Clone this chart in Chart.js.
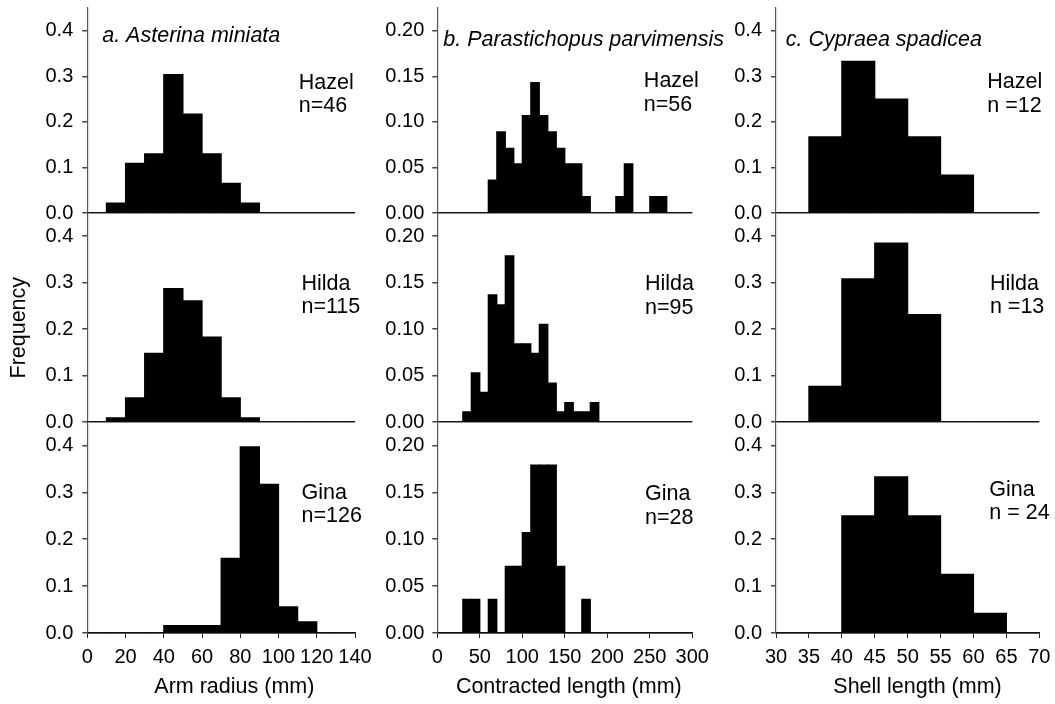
<!DOCTYPE html>
<html>
<head>
<meta charset="utf-8">
<title>Size-frequency histograms</title>
<script src="https://cdn.jsdelivr.net/npm/chart.js@4.4.1/dist/chart.umd.min.js"></script>
<style>
  html, body { margin: 0; padding: 0; background: #fff; }
  #fig { position: relative; width: 1055px; height: 704px; overflow: hidden; }
  .col { position: absolute; top: 0; height: 704px; }
</style>
</head>
<body>
<div id="fig">
  <div class="col" style="left:0px;width:380px"><canvas id="colA" width="380" height="704"></canvas></div>
  <div class="col" style="left:360px;width:380px"><canvas id="colB" width="380" height="704"></canvas></div>
  <div class="col" style="left:700px;width:355px"><canvas id="colC" width="355" height="704"></canvas></div>
</div>
<script>
'use strict';

// a. Asterina miniata - arm radius, 10 mm bins (bin centres)
var armBins  = [5, 15, 25, 35, 45, 55, 65, 75, 85, 95, 105, 115, 125, 135];
var armHazel = [0, 0.022, 0.109, 0.130, 0.304, 0.217, 0.130, 0.065, 0.022, 0, 0, 0, 0, 0];
var armHilda = [0, 0.009, 0.052, 0.148, 0.287, 0.261, 0.183, 0.052, 0.009, 0, 0, 0, 0, 0];
var armGina  = [0, 0, 0, 0, 0.016, 0.016, 0.016, 0.159, 0.397, 0.317, 0.056, 0.024, 0, 0];
var armTicks = [0, 20, 40, 60, 80, 100, 120, 140];

// b. Parastichopus parvimensis - contracted length, 10 mm bins
var lenBins  = [5, 15, 25, 35, 45, 55, 65, 75, 85, 95, 105, 115, 125, 135, 145,
                155, 165, 175, 185, 195, 205, 215, 225, 235, 245, 255, 265, 275, 285, 295];
var lenHazel = [0, 0, 0, 0, 0, 0, 0.036, 0.089, 0.071, 0.054, 0.107, 0.143, 0.107, 0.089, 0.071,
                0.054, 0.054, 0.018, 0, 0, 0, 0.018, 0.054, 0, 0, 0.018, 0.018, 0, 0, 0];
var lenHilda = [0, 0, 0, 0.011, 0.053, 0.032, 0.137, 0.126, 0.179, 0.084, 0.084, 0.074, 0.105, 0.042, 0.011,
                0.021, 0.011, 0.011, 0.021, 0, 0, 0, 0, 0, 0, 0, 0, 0, 0, 0];
var lenGina  = [0, 0, 0, 0.036, 0.036, 0, 0.036, 0, 0.071, 0.071, 0.107, 0.179, 0.179, 0.179, 0.071,
                0, 0, 0.036, 0, 0, 0, 0, 0, 0, 0, 0, 0, 0, 0, 0];
var lenTicks = [0, 50, 100, 150, 200, 250, 300];

// c. Cypraea spadicea - shell length, 5 mm bins
var shellBins  = [32.5, 37.5, 42.5, 47.5, 52.5, 57.5, 62.5, 67.5];
var shellHazel = [0, 0.167, 0.333, 0.250, 0.167, 0.083, 0, 0];
var shellHilda = [0, 0.077, 0.308, 0.385, 0.231, 0, 0, 0];
var shellGina  = [0, 0, 0.250, 0.333, 0.250, 0.125, 0.042, 0];
var shellTicks = [30, 35, 40, 45, 50, 55, 60, 65, 70];

var freqTicks  = [0, 0.1, 0.2, 0.3, 0.4];
var freqTicksB = [0, 0.05, 0.10, 0.15, 0.20];

var FONT = '"Liberation Sans", Arial, Helvetica, sans-serif';
Chart.defaults.font.family = FONT;
Chart.defaults.color = '#000';

// text written on top of each column (titles, site labels, axis titles)
function notes(items) {
  return {
    id: 'notes',
    afterDraw: function(chart) {
      var ctx = chart.ctx;
      var xs = chart.scales.x;
      ctx.save();
      ctx.fillStyle = '#000';
      ctx.textBaseline = 'middle';
      items.forEach(function(it) {
        var px = xs.getPixelForValue(it.x);
        var py = it.axis ? chart.scales[it.axis].getPixelForValue(it.y) : chart.chartArea.bottom + it.dy;
        ctx.font = (it.italic ? 'italic ' : '') + '21.5px ' + FONT;
        ctx.textAlign = it.align || 'left';
        if (it.rotate) {
          ctx.save();
          ctx.translate(px, py);
          ctx.rotate(-Math.PI / 2);
          ctx.fillText(it.lines[0], 0, 0);
          ctx.restore();
          return;
        }
        it.lines.forEach(function(t, k) {
          ctx.fillText(t, px, py + k * 23.5);
        });
      });
      ctx.restore();
    }
  };
}

function column(id, o) {
  var rowWeights = {y1: 205, y2: 209, y3: 211};
  var scales = {
    x: {
      type: 'linear',
      offset: false,
      min: o.xTicks[0],
      max: o.xTicks[o.xTicks.length - 1],
      afterBuildTicks: function(s) {
        s.ticks = o.xTicks.map(function(v) { return {value: v}; });
      },
      afterFit: function(s) {
        s.height = 71;
        s.paddingLeft = 0;
        s.paddingRight = 0;
      },
      grid: {offset: false, drawOnChartArea: false, drawTicks: true, tickLength: 5, tickColor: '#222'},
      border: {color: '#222', width: 1.5},
      ticks: {font: {size: 20}, padding: 7, maxRotation: 0, autoSkip: false}
    }
  };
  // rows listed bottom first so that y1 ends up on top of the stack
  ['y3', 'y2', 'y1'].forEach(function(key) {
    scales[key] = {
      type: 'linear',
      position: 'left',
      stack: 'rows',
      stackWeight: rowWeights[key],
      min: 0,
      max: o.yMax,
      afterBuildTicks: function(s) {
        s.ticks = o.yTicks.map(function(v) { return {value: v}; });
      },
      afterFit: function(s) {
        s.width = o.yWidth;
        s.paddingTop = 0;
        s.paddingBottom = 0;
      },
      grid: {
        color: function(c) { return c.tick && c.tick.value === 0 ? '#222' : 'rgba(0,0,0,0)'; },
        lineWidth: 1.5,
        drawTicks: true,
        tickLength: 5,
        tickColor: '#444'
      },
      border: {color: '#555', width: 1.2},
      ticks: {
        font: {size: 20},
        padding: o.yPad,
        callback: function(v) { return Number(v).toFixed(o.decimals); }
      }
    };
  });

  var datasets = o.rows.map(function(vals, i) {
    return {
      yAxisID: 'y' + (i + 1),
      data: o.bins.map(function(b, k) { return {x: b, y: vals[k]}; }),
      backgroundColor: '#000',
      borderWidth: 0,
      inflateAmount: 0.6,
      barPercentage: 1,
      categoryPercentage: 1,
      grouped: false
    };
  });

  new Chart(document.getElementById(id), {
    type: 'bar',
    data: {datasets: datasets},
    options: {
      responsive: false,
      animation: false,
      events: [],
      layout: {padding: {top: 8, right: o.padRight, bottom: 0, left: 0}},
      plugins: {legend: {display: false}, tooltip: {enabled: false}},
      scales: scales
    },
    plugins: [notes(o.notes)]
  });
}

column('colA', {
  bins: armBins,
  rows: [armHazel, armHilda, armGina],
  xTicks: armTicks,
  yTicks: freqTicks,
  yMax: 0.45,
  decimals: 1,
  yWidth: 87.3,
  yPad: 9,
  padRight: 25,
  notes: [
    {axis: 'y1', x: 7.8, y: 0.388, lines: ['a. Asterina miniata'], italic: true},
    {axis: 'y1', x: 110.6, y: 0.286, lines: ['Hazel', 'n=46']},
    {axis: 'y2', x: 112, y: 0.298, lines: ['Hilda', 'n=115']},
    {axis: 'y3', x: 112, y: 0.299, lines: ['Gina', 'n=126']},
    {axis: 'y2', x: -35.7, y: 0.203, lines: ['Frequency'], rotate: true, align: 'center'},
    {x: 76.9, dy: 54, lines: ['Arm radius (mm)'], align: 'center'}
  ]
});

column('colB', {
  bins: lenBins,
  rows: [lenHazel, lenHilda, lenGina],
  xTicks: lenTicks,
  yTicks: freqTicksB,
  yMax: 0.225,
  decimals: 2,
  yWidth: 77.3,
  yPad: 8,
  padRight: 47.7,
  notes: [
    {axis: 'y1', x: 7, y: 0.190, lines: ['b. Parastichopus parvimensis'], italic: true},
    {axis: 'y1', x: 243, y: 0.1445, lines: ['Hazel', 'n=56']},
    {axis: 'y2', x: 244.4, y: 0.148, lines: ['Hilda', 'n=95']},
    {axis: 'y3', x: 244.4, y: 0.148, lines: ['Gina', 'n=28']},
    {x: 154.7, dy: 54, lines: ['Contracted length (mm)'], align: 'center'}
  ]
});

column('colC', {
  bins: shellBins,
  rows: [shellHazel, shellHilda, shellGina],
  xTicks: shellTicks,
  yTicks: freqTicks,
  yMax: 0.45,
  decimals: 1,
  yWidth: 76,
  yPad: 9,
  padRight: 15.7,
  notes: [
    {axis: 'y1', x: 31.5, y: 0.379, lines: ['c. Cypraea spadicea'], italic: true},
    {axis: 'y1', x: 62.1, y: 0.287, lines: ['Hazel', 'n =12']},
    {axis: 'y2', x: 62.5, y: 0.298, lines: ['Hilda', 'n =13']},
    {axis: 'y3', x: 62.4, y: 0.305, lines: ['Gina', 'n = 24']},
    {x: 51.5, dy: 54, lines: ['Shell length (mm)'], align: 'center'}
  ]
});
</script>
</body>
</html>
